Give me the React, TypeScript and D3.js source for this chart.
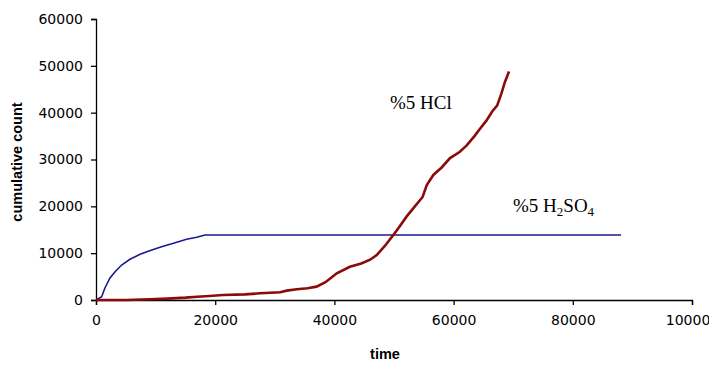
import React, { useEffect, useRef } from 'react';
import * as d3 from 'd3';

// %5 HCl series
const hclTime = [0, 5000, 9000, 12000, 15000, 17000, 19000, 21300, 25000, 27500, 30900, 32000, 33700, 35500, 37000, 38500, 40400, 42600, 44500, 46000, 47100, 48500, 49900, 51000, 52100, 53500, 54800, 55500, 56600, 58000, 59400, 61000, 62200, 63500, 64400, 65500, 66500, 67300, 68000, 68600, 69300];
const hclCount = [0, 0, 150, 300, 500, 700, 850, 1070, 1200, 1430, 1640, 2000, 2280, 2500, 2850, 3800, 5700, 7100, 7800, 8600, 9600, 11600, 13900, 15800, 17800, 20000, 22000, 24550, 26700, 28300, 30300, 31600, 33000, 35000, 36500, 38300, 40300, 41500, 44000, 46500, 48800];

// %5 H2SO4 series
const h2so4Time = [0, 950, 1500, 2350, 3200, 4300, 5700, 7400, 9000, 11000, 13000, 15200, 16900, 18300, 88100];
const h2so4Count = [0, 700, 2560, 4700, 6050, 7470, 8690, 9750, 10530, 11380, 12100, 12960, 13390, 13880, 13880];

const xTicks = [0, 20000, 40000, 60000, 80000, 100000];
const yTicks = [0, 10000, 20000, 30000, 40000, 50000, 60000];

const W = 709;
const H = 365;

const App = () => {
  const ref = useRef<SVGSVGElement>(null);

  useEffect(() => {
    const svg = d3.select(ref.current);
    svg.selectAll('*').remove();

    const x = d3.scaleLinear().domain([0, 100000]).range([96, 692]);
    const y = d3.scaleLinear().domain([0, 60000]).range([300, 19]);

    const font = '"DejaVu Sans", Arial, sans-serif';

    // y axis
    const yAxis = svg.append('g')
      .attr('transform', `translate(${x(0)},0)`)
      .call(d3.axisLeft(y).tickValues(yTicks).tickSize(5).tickPadding(8).tickFormat(d3.format('d')));
    yAxis.selectAll('text').style('font-family', font).style('font-size', '14px').attr('fill', '#000');

    // x axis
    const xAxis = svg.append('g')
      .attr('transform', `translate(0,${y(0)})`)
      .call(d3.axisBottom(x).tickValues(xTicks).tickSize(5).tickPadding(10).tickFormat(d3.format('d')));
    xAxis.selectAll('text').style('font-family', font).style('font-size', '14px').attr('fill', '#000');

    svg.selectAll('.domain, .tick line').attr('stroke', '#000').attr('stroke-width', 1.3);

    const blue = h2so4Time.map((t, i) => [x(t), y(h2so4Count[i])] as [number, number]);
    const red = hclTime.map((t, i) => [x(t), y(hclCount[i])] as [number, number]);

    svg.append('path')
      .attr('d', d3.line()(blue))
      .attr('fill', 'none')
      .attr('stroke', '#1a1a8c')
      .attr('stroke-width', 1.6);

    svg.append('path')
      .attr('d', d3.line()(red))
      .attr('fill', 'none')
      .attr('stroke', '#8b0a0a')
      .attr('stroke-width', 2.6);

    // axis titles
    svg.append('text')
      .attr('transform', 'translate(22,162) rotate(-90)')
      .attr('text-anchor', 'middle')
      .style('font-family', 'Arial, "Liberation Sans", sans-serif')
      .style('font-size', '14.5px')
      .style('font-weight', 'bold')
      .text('cumulative count');

    svg.append('text')
      .attr('x', 385)
      .attr('y', 359)
      .attr('text-anchor', 'middle')
      .style('font-family', 'Arial, "Liberation Sans", sans-serif')
      .style('font-size', '14.5px')
      .style('font-weight', 'bold')
      .text('time');

    // series labels
    const serif = '"Liberation Serif", "Times New Roman", serif';
    svg.append('text')
      .attr('x', 390)
      .attr('y', 109)
      .style('font-family', serif)
      .style('font-size', '19px')
      .text('%5 HCl');

    const t2 = svg.append('text')
      .attr('x', 513)
      .attr('y', 212)
      .style('font-family', serif)
      .style('font-size', '19px');
    t2.append('tspan').text('%5 H');
    t2.append('tspan').attr('dy', 4).style('font-size', '13px').text('2');
    t2.append('tspan').attr('dy', -4).text('SO');
    t2.append('tspan').attr('dy', 4).style('font-size', '13px').text('4');
  }, []);

  return (
    <svg
      ref={ref}
      width={W}
      height={H}
      style={{ position: 'absolute', left: 0, top: 0, background: '#fff' }}
    />
  );
};

export default App;
